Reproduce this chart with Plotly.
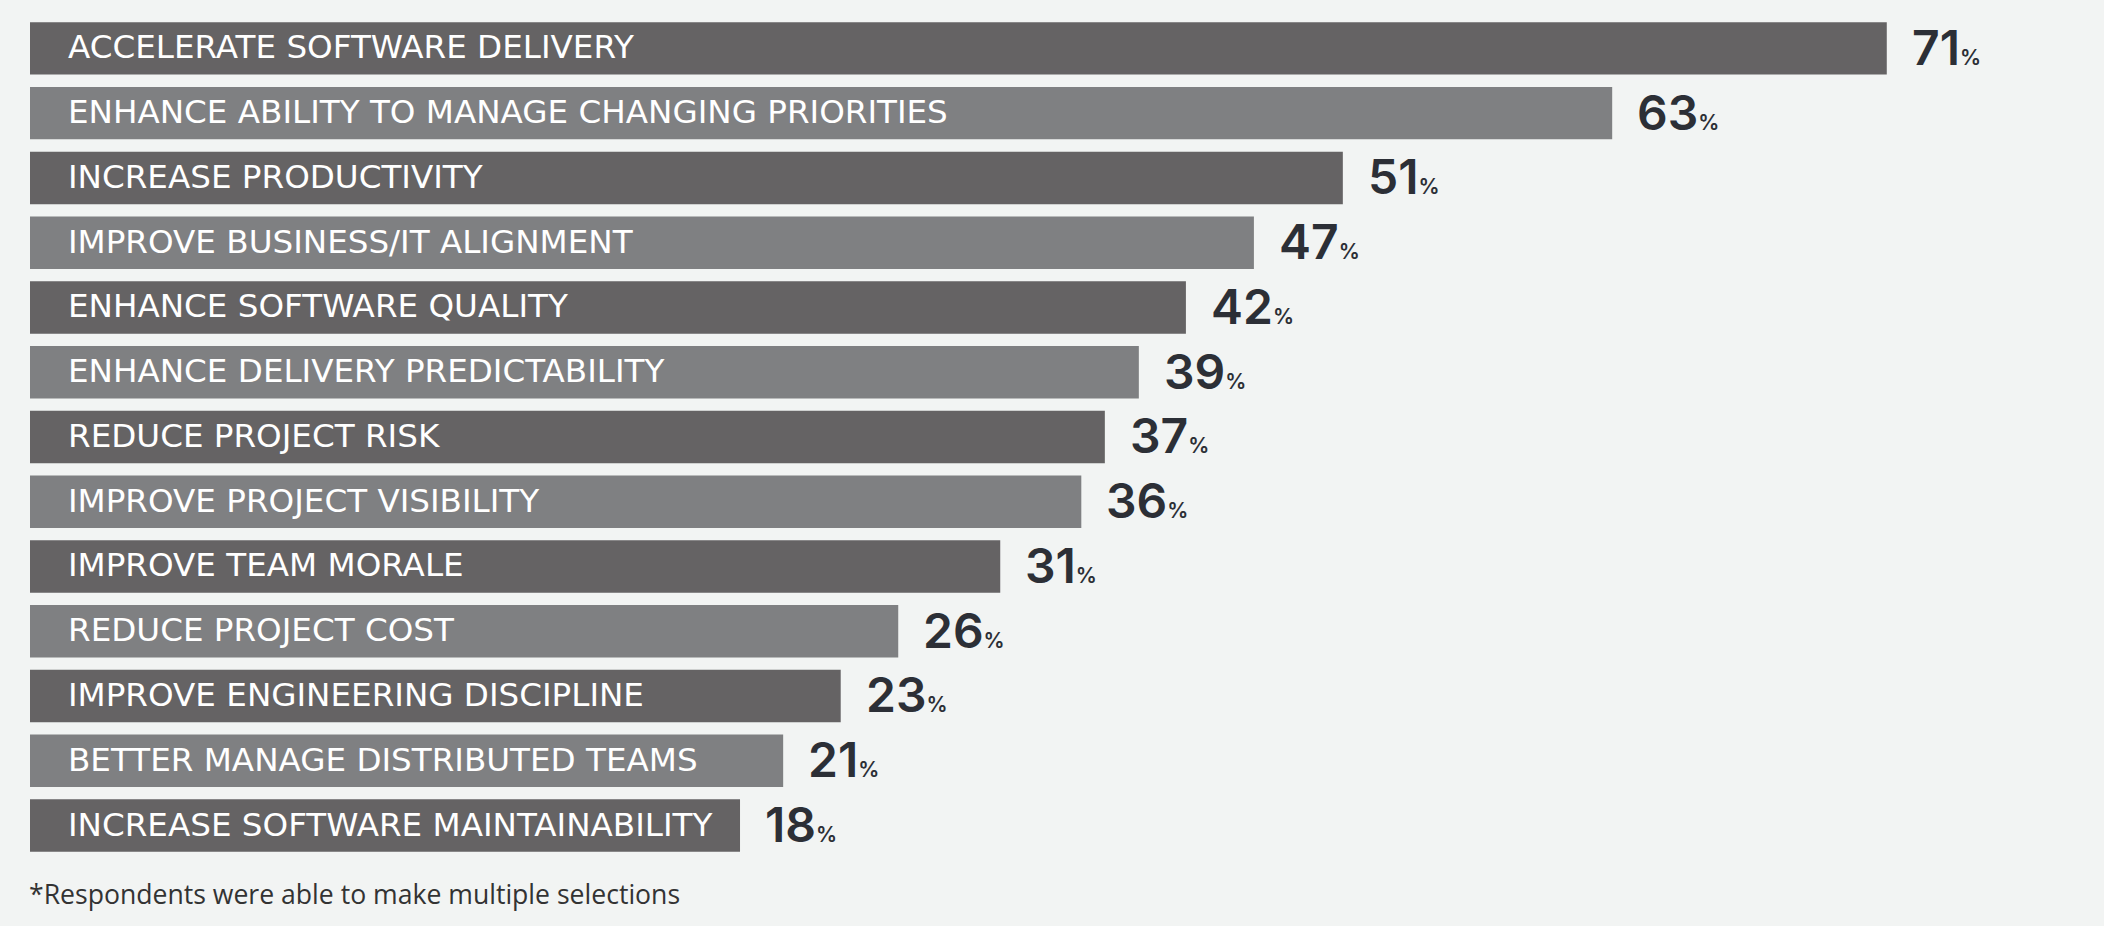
import plotly.graph_objects as go

# Survey answers, top to bottom
categories = [
    "ACCELERATE SOFTWARE DELIVERY",
    "ENHANCE ABILITY TO MANAGE CHANGING PRIORITIES",
    "INCREASE PRODUCTIVITY",
    "IMPROVE BUSINESS/IT ALIGNMENT",
    "ENHANCE SOFTWARE QUALITY",
    "ENHANCE DELIVERY PREDICTABILITY",
    "REDUCE PROJECT RISK",
    "IMPROVE PROJECT VISIBILITY",
    "IMPROVE TEAM MORALE",
    "REDUCE PROJECT COST",
    "IMPROVE ENGINEERING DISCIPLINE",
    "BETTER MANAGE DISTRIBUTED TEAMS",
    "INCREASE SOFTWARE MAINTAINABILITY",
]
# percentages printed next to each bar
percents = [71, 63, 51, 47, 42, 39, 37, 36, 31, 26, 23, 21, 18]
# bar lengths as drawn in the graphic (same scale as 71%)
drawn_length = [71, 60.5, 50.2, 46.8, 44.2, 42.4, 41.1, 40.2, 37.1, 33.2, 31.0, 28.8, 27.15]

footnote = "*Respondents were able to make multiple selections"

DARK = "#656364"
LIGHT = "#7f8082"
BG = "#f2f4f3"
bar_colors = [DARK if i % 2 == 0 else LIGHT for i in range(len(categories))]

fig = go.Figure(go.Bar(
    x=drawn_length,
    y=categories,
    orientation="h",
    marker=dict(color=bar_colors, line=dict(width=0)),
    hoverinfo="skip",
))

# category labels inside bars
for cat in categories:
    fig.add_annotation(
        x=0, y=cat, xref="x", yref="y",
        text=cat, showarrow=False,
        xanchor="left", xshift=36, yshift=1,
        font=dict(family="DejaVu Sans", size=32.6, color="white"),
    )

# value labels after bars
for cat, length, pct in zip(categories, drawn_length, percents):
    fig.add_annotation(
        x=length, y=cat, xref="x", yref="y",
        text=f"{pct}<span style='font-size:21px'>%</span>",
        showarrow=False,
        xanchor="left", xshift=23, yshift=1,
        font=dict(family="Inter", size=48, color="#2c2f36", weight=600),
    )

fig.add_annotation(
    x=0, y=0, xref="paper", yref="paper",
    text=footnote, showarrow=False,
    xanchor="left", yanchor="middle", xshift=-3, yshift=-36,
    font=dict(family="Open Sans", size=26.6, color="#333333"),
)

fig.update_layout(
    width=2104, height=926,
    margin=dict(l=30, r=8, t=16, b=68),
    paper_bgcolor=BG, plot_bgcolor=BG,
    bargap=0.19,
    showlegend=False,
    xaxis=dict(range=[0, 79], visible=False, fixedrange=True),
    yaxis=dict(autorange="reversed", visible=False, fixedrange=True),
)

# drop the default page margin so the figure sits at the window corner
fig.write_html(
    "out.html",
    config={"displayModeBar": False},
    post_script="document.body.style.margin='0';document.body.style.background='%s';" % BG,
)
